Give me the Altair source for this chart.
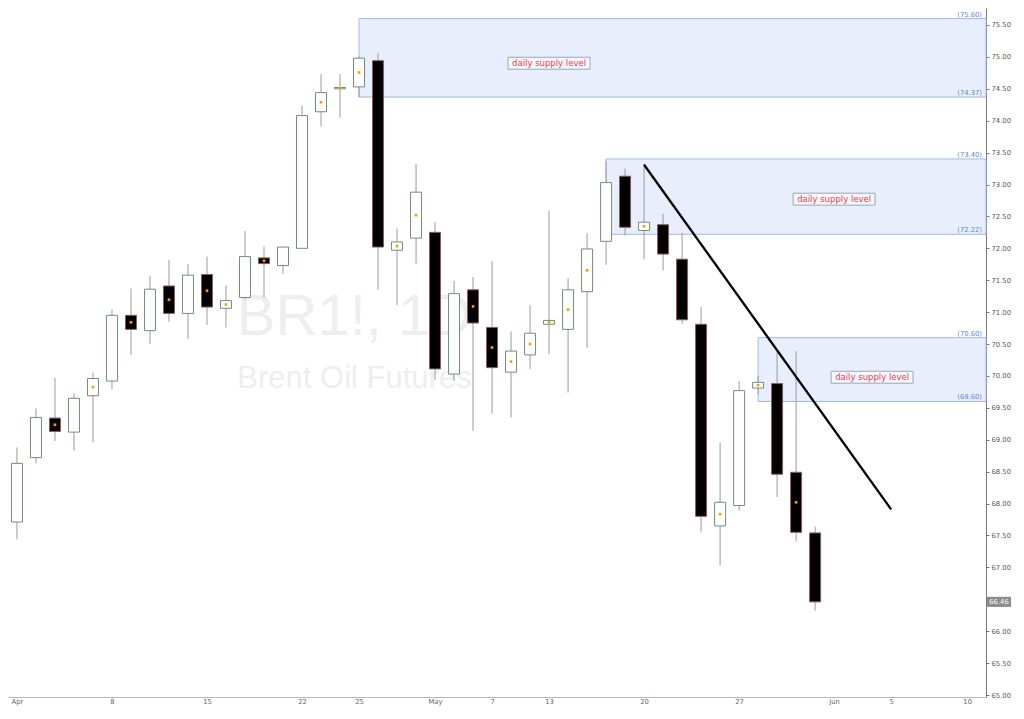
import altair as alt
import pandas as pd

# ---------------- data ----------------
day_index = list(range(43))
open_ = [67.71, 68.72, 69.34, 69.12, 69.69, 69.92, 70.95, 70.71, 71.41, 70.98,
         71.59, 71.06, 71.23, 71.85, 71.73, 72.00, 74.14, 74.50, 74.53, 74.94,
         71.97, 72.16, 72.25, 70.03, 71.35, 70.76, 70.06, 70.33, 70.81, 70.73,
         71.32, 72.11, 73.13, 72.28, 72.37, 71.83, 70.81, 67.65, 67.97, 69.81,
         69.88, 68.49, 67.54]
high = [68.88, 69.49, 69.97, 69.73, 70.05, 71.04, 71.37, 71.57, 71.82, 71.75,
        71.87, 71.42, 72.27, 72.03, 72.02, 74.24, 74.73, 74.73, 75.00, 75.06,
        72.31, 73.32, 72.41, 71.49, 71.55, 71.80, 70.70, 71.11, 72.59, 71.53,
        72.24, 73.37, 73.25, 73.33, 72.54, 72.24, 71.08, 68.96, 69.92, 70.00,
        70.41, 70.39, 67.64]
low = [67.44, 68.63, 68.98, 68.83, 68.96, 69.79, 70.33, 70.50, 70.85, 70.58,
       70.80, 70.76, 71.20, 71.23, 71.60, 72.00, 73.91, 74.05, 74.37, 71.35,
       71.11, 71.76, 69.94, 69.92, 69.14, 69.41, 69.35, 70.11, 70.34, 69.74,
       70.44, 71.74, 72.20, 71.83, 71.65, 70.82, 67.55, 67.03, 67.89, 69.72,
       68.10, 67.41, 66.32]
close = [68.63, 69.35, 69.13, 69.65, 69.96, 70.95, 70.73, 71.36, 70.98, 71.58,
         71.08, 71.18, 71.87, 71.76, 72.02, 74.08, 74.44, 74.52, 74.98, 72.02,
         72.10, 72.88, 70.11, 71.29, 70.83, 70.13, 70.39, 70.67, 70.87, 71.35,
         71.99, 73.03, 72.33, 72.41, 71.91, 70.88, 67.80, 68.02, 69.77, 69.90,
         68.46, 67.55, 66.46]
mid_marker = [0, 0, 1, 0, 1, 0, 1, 0, 1, 0,
              1, 1, 0, 1, 0, 0, 1, 1, 1, 0,
              1, 1, 0, 0, 1, 1, 1, 1, 1, 1,
              1, 0, 0, 1, 0, 0, 0, 1, 0, 1,
              0, 1, 0]

x_tick_pos = [0, 5, 10, 15, 18, 22, 25, 28, 33, 38, 43, 46, 50]
x_tick_labels = ["Apr", "8", "15", "22", "25", "May", "7", "13", "20", "27", "Jun", "5", "10"]
y_tick_vals = [65.0, 65.5, 66.0, 67.0, 67.5, 68.0, 68.5, 69.0, 69.5, 70.0,
               70.5, 71.0, 71.5, 72.0, 72.5, 73.0, 73.5, 74.0, 74.5, 75.0, 75.5]

zone_start = [18, 31, 39]
zone_top = [75.60, 73.40, 70.60]
zone_bottom = [74.37, 72.22, 69.60]
zone_label_x = [28, 43, 45]
zone_label_y = [74.90, 72.77, 69.98]
zone_label_text = ["daily supply level", "daily supply level", "daily supply level"]

trend_x = [33, 46]
trend_y = [73.31, 67.91]

last_price = [66.46]

# ---------------- frames ----------------
df = pd.DataFrame({"i": day_index, "o": open_, "h": high, "l": low, "c": close, "dot": mid_marker})
df["up"] = df["c"] >= df["o"]
df["lo"] = df[["o", "c"]].min(axis=1)
df["hi"] = df[["o", "c"]].max(axis=1)
df["mid"] = (df["o"] + df["c"]) / 2

zones = pd.DataFrame({"s": zone_start, "t": zone_top, "b": zone_bottom})
levels = pd.DataFrame({"v": zone_top + zone_bottom})
levels["lab"] = levels["v"].map(lambda v: f"({v:.2f})")
zlabels = pd.DataFrame({"x": zone_label_x, "y": zone_label_y, "t": zone_label_text})
trend = pd.DataFrame({"x": trend_x, "y": trend_y})
price = pd.DataFrame({"v": last_price})
price["lab"] = price["v"].map(lambda v: f"{v:.2f}")

W, H = 978, 689
xscale = alt.Scale(domain=[-0.2083, 50.7292], nice=False, zero=False)
yscale = alt.Scale(domain=[64.969, 75.766], nice=False, zero=False)

label_expr = " : ".join(f"datum.value == {p} ? '{t}'" for p, t in zip(x_tick_pos, x_tick_labels)) + " : ''"

xaxis = alt.Axis(values=x_tick_pos, labelExpr=label_expr, grid=False, domainColor="#b8b8b8",
                 tickColor="#b8b8b8", tickSize=1, labelColor="#666666", labelFontSize=6.8,
                 labelFont="DejaVu Sans", labelPadding=0, labelFlush=False, labelOverlap=False)
yaxis = alt.Axis(orient="right", values=y_tick_vals, format=".2f", grid=False, domainColor="#7a7a7a",
                 tickColor="#7a7a7a", tickSize=3, labelColor="#555555", labelFontSize=6.8,
                 labelFont="DejaVu Sans", labelPadding=2, labelOverlap=False)


def X(f):
    return alt.X(f, type="quantitative", scale=xscale, axis=xaxis, title=None)


def Y(f):
    return alt.Y(f, type="quantitative", scale=yscale, axis=yaxis, title=None)


one = pd.DataFrame({"t": ["BR1!, 1D"]})
two = pd.DataFrame({"t": ["Brent Oil Futures"]})
wm1 = alt.Chart(one).mark_text(font="Liberation Sans", fontSize=58, color="#eeeeee",
                               align="center", baseline="alphabetic").encode(
    x=alt.value(346.5), y=alt.value(327), text="t:N")
wm2 = alt.Chart(two).mark_text(font="Liberation Sans", fontSize=31, color="#eeeeee",
                               align="center", baseline="alphabetic").encode(
    x=alt.value(346.5), y=alt.value(380), text="t:N")

zone_rects = alt.Chart(zones).mark_rect(fill="#e8eefc", stroke="#a0bbf0", strokeWidth=1).encode(
    x=X("s"), x2=alt.value(W), y=Y("t"), y2="b")

wicks = alt.Chart(df).mark_rule(color="#9b9b9b", strokeWidth=1).encode(
    x=X("i"), y=Y("l"), y2="h")

bodies = alt.Chart(df).mark_bar(size=11, strokeWidth=1).encode(
    x=X("i"), y=Y("lo"), y2="hi",
    fill=alt.condition("datum.up", alt.value("#ffffff"), alt.value("#000000")),
    stroke=alt.condition("datum.up", alt.value("#6f8f78"), alt.value("#8a5c5c")))

dots = alt.Chart(df[df["dot"] == 1]).mark_square(size=7, color="#f5a000", opacity=1).encode(
    x=X("i"), y=Y("mid"))

trend_line = alt.Chart(trend).mark_line(color="#000000", strokeWidth=2.3).encode(
    x=X("x"), y=Y("y"))

level_text = alt.Chart(levels).mark_text(color="#5d86d6", font="DejaVu Sans", fontSize=6.8,
                                         align="right", baseline="bottom", dy=-1).encode(
    x=alt.value(W - 4), y=Y("v"), text="lab:N")

label_box = alt.Chart(zlabels).mark_point(shape="M-1,-0.146H1V0.146H-1Z", size=6724, filled=True,
                                          fill="#f4f7fd", stroke="#9ea6b3", strokeWidth=1,
                                          opacity=1).encode(x=X("x"), y=Y("y"))
label_text = alt.Chart(zlabels).mark_text(color="#e8404a", font="DejaVu Sans", fontSize=8.5,
                                          align="center", baseline="middle").encode(
    x=X("x"), y=Y("y"), text="t:N")

price_tag = alt.Chart(price).mark_point(shape="M-1,-0.42H1V0.42H-1Z", size=576, filled=True,
                                        color="#8c8c8c", opacity=1, strokeWidth=0).encode(
    x=alt.value(W + 13), y=Y("v"))
price_text = alt.Chart(price).mark_text(color="#ffffff", font="DejaVu Sans", fontSize=6.8,
                                        align="center", baseline="middle").encode(
    x=alt.value(W + 13), y=Y("v"), text="lab:N")

chart = alt.layer(
    wm1, wm2, zone_rects, wicks, bodies, dots, trend_line, level_text,
    label_box, label_text, price_tag, price_text
).properties(
    width=W, height=H,
    autosize=alt.AutoSizeParams(type="none"),
    padding={"left": 0, "top": 0, "right": 30, "bottom": 9},
    background="#ffffff",
).configure_view(stroke=None)

chart.save("out.html", embed_options={"renderer": "svg", "actions": False})
